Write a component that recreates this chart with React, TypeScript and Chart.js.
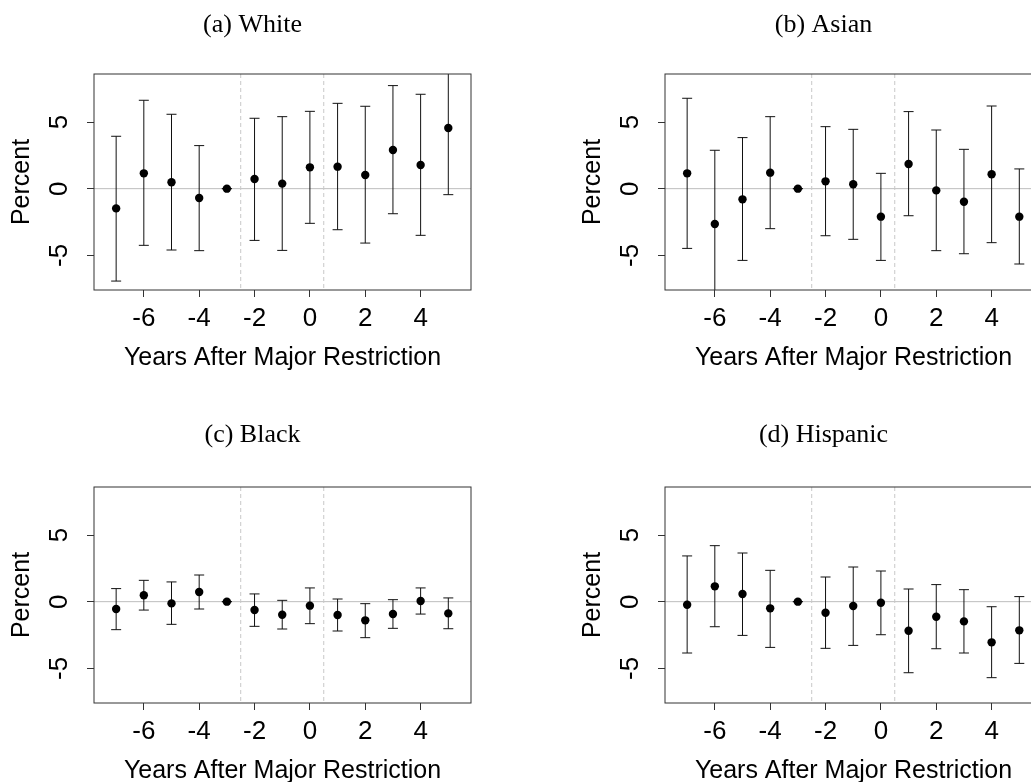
import React, { useEffect, useRef } from "react";
import { Chart, registerables } from "chart.js";

Chart.register(...registerables);

// ---- data ----
const years = [-7, -6, -5, -4, -3, -2, -1, 0, 1, 2, 3, 4, 5];
const xTickValues = [-6, -4, -2, 0, 2, 4];
const yTickValues = [-5, 0, 5];
const periodBreaks = [-2.5, 0.5];

const whiteEst = [-1.48, 1.15, 0.48, -0.7, 0, 0.73, 0.38, 1.6, 1.65, 1.03, 2.9, 1.78, 4.55];
const whiteLow = [-6.93, -4.25, -4.6, -4.65, 0, -3.88, -4.63, -2.6, -3.08, -4.08, -1.88, -3.5, -0.45];
const whiteHigh = [3.93, 6.63, 5.58, 3.23, 0, 5.28, 5.4, 5.8, 6.4, 6.18, 7.73, 7.08, 9.5];

const asianEst = [1.15, -2.65, -0.8, 1.2, 0, 0.55, 0.33, -2.1, 1.85, -0.13, -0.98, 1.08, -2.1];
const asianLow = [-4.48, -8.2, -5.38, -3.0, 0, -3.53, -3.8, -5.38, -2.03, -4.65, -4.88, -4.05, -5.65];
const asianHigh = [6.78, 2.88, 3.83, 5.4, 0, 4.65, 4.45, 1.15, 5.78, 4.4, 2.95, 6.2, 1.48];

const blackEst = [-0.55, 0.48, -0.13, 0.73, 0, -0.63, -0.98, -0.3, -1.0, -1.4, -0.93, 0.05, -0.88];
const blackLow = [-2.1, -0.63, -1.7, -0.55, 0, -1.85, -2.05, -1.65, -2.2, -2.7, -2.0, -0.93, -2.03];
const blackHigh = [0.98, 1.6, 1.48, 2.0, 0, 0.58, 0.1, 1.03, 0.2, -0.15, 0.15, 1.03, 0.28];

const hispEst = [-0.23, 1.15, 0.58, -0.5, 0, -0.83, -0.33, -0.08, -2.18, -1.13, -1.48, -3.05, -2.15];
const hispLow = [-3.85, -1.88, -2.53, -3.43, 0, -3.5, -3.28, -2.48, -5.33, -3.53, -3.85, -5.7, -4.63];
const hispHigh = [3.43, 4.2, 3.65, 2.35, 0, 1.85, 2.6, 2.3, 0.95, 1.28, 0.9, -0.38, 0.38];

const panelTitles = ["(a) White", "(b) Asian", "(c) Black", "(d) Hispanic"];
const xAxisTitle = "Years After Major Restriction";
const yAxisTitle = "Percent";

const SANS = '"Liberation Sans", Arial, sans-serif';
const SERIF = '"Liberation Serif", "Times New Roman", serif';

type PanelProps = {
  est: number[];
  low: number[];
  high: number[];
  title: string;
  left: number;
  top: number;
  titleY: number;
};

function Panel({ est, low, high, title, left, top, titleY }: PanelProps) {
  const ref = useRef<HTMLCanvasElement | null>(null);

  useEffect(() => {
    if (!ref.current) return;
    const decor = {
      id: "decor",
      beforeDatasetsDraw(chart: any) {
        const { ctx, chartArea: a, scales } = chart;
        const x = scales.x;
        const y = scales.y;
        ctx.save();
        ctx.beginPath();
        ctx.rect(a.left, a.top, a.right - a.left, a.bottom - a.top);
        ctx.clip();
        // zero reference line
        ctx.lineWidth = 1;
        ctx.strokeStyle = "#bdbdbd";
        const y0 = y.getPixelForValue(0);
        ctx.beginPath();
        ctx.moveTo(a.left, y0);
        ctx.lineTo(a.right, y0);
        ctx.stroke();
        // period breaks
        ctx.strokeStyle = "#c8c8c8";
        ctx.setLineDash([4, 3]);
        for (const b of periodBreaks) {
          const px = x.getPixelForValue(b);
          ctx.beginPath();
          ctx.moveTo(px, a.top);
          ctx.lineTo(px, a.bottom);
          ctx.stroke();
        }
        ctx.setLineDash([]);
        // error bars
        ctx.strokeStyle = "#111";
        years.forEach((yr, i) => {
          const px = x.getPixelForValue(yr);
          const pl = y.getPixelForValue(low[i]);
          const ph = y.getPixelForValue(high[i]);
          ctx.beginPath();
          ctx.moveTo(px, pl);
          ctx.lineTo(px, ph);
          ctx.moveTo(px - 5, pl);
          ctx.lineTo(px + 5, pl);
          ctx.moveTo(px - 5, ph);
          ctx.lineTo(px + 5, ph);
          ctx.stroke();
        });
        ctx.restore();
      },
      afterDatasetsDraw(chart: any) {
        const { ctx, chartArea: a } = chart;
        ctx.save();
        ctx.strokeStyle = "#333";
        ctx.lineWidth = 1;
        ctx.strokeRect(a.left, a.top, a.right - a.left, a.bottom - a.top);
        ctx.restore();
      },
      afterDraw(chart: any) {
        const { ctx } = chart;
        ctx.save();
        ctx.fillStyle = "#000";
        ctx.font = `26px ${SERIF}`;
        ctx.textAlign = "center";
        ctx.textBaseline = "alphabetic";
        ctx.fillText(title, 252.5, titleY);
        ctx.restore();
      },
    };

    const chart = new Chart(ref.current, {
      type: "scatter",
      data: {
        datasets: [
          {
            data: years.map((yr, i) => ({ x: yr, y: est[i] })),
            pointRadius: 4.2,
            pointHoverRadius: 4.2,
            pointBackgroundColor: "#000",
            pointBorderColor: "#000",
            pointBorderWidth: 0,
          },
        ],
      },
      options: {
        animation: false,
        responsive: false,
        devicePixelRatio: 1,
        events: [],
        layout: { padding: { left: 0, top: 74, right: 33, bottom: 0 } },
        plugins: {
          legend: { display: false },
          tooltip: { enabled: false },
          title: { display: false },
        },
        scales: {
          x: {
            type: "linear",
            min: -7.8,
            max: 5.82,
            afterBuildTicks: (s: any) => {
              s.ticks = xTickValues.map((v) => ({ value: v }));
            },
            afterFit: (s: any) => {
              s.height = 110;
            },
            ticks: {
              color: "#000",
              font: { family: SANS, size: 26 },
              padding: 6,
              maxRotation: 0,
              minRotation: 0,
              autoSkip: false,
              callback: (v: any) => String(v),
            },
            grid: {
              display: true,
              drawOnChartArea: false,
              drawTicks: true,
              tickLength: 7,
              color: "#333",
              lineWidth: 1,
            },
            border: { display: false },
            title: {
              display: true,
              text: xAxisTitle,
              color: "#000",
              font: { family: SANS, size: 25 },
              padding: { top: 0, bottom: 27 },
            },
          },
          y: {
            type: "linear",
            min: -7.6,
            max: 8.6,
            afterBuildTicks: (s: any) => {
              s.ticks = yTickValues.map((v) => ({ value: v }));
            },
            afterFit: (s: any) => {
              s.width = 94;
            },
            ticks: {
              color: "#000",
              font: { family: SANS, size: 26 },
              padding: 15.4,
              minRotation: 90,
              maxRotation: 90,
              crossAlign: "center",
              autoSkip: false,
              callback: (v: any) => String(v),
            },
            grid: {
              display: true,
              drawOnChartArea: false,
              drawTicks: true,
              tickLength: 7,
              color: "#333",
              lineWidth: 1,
            },
            border: { display: false },
            title: {
              display: true,
              text: yAxisTitle,
              color: "#000",
              font: { family: SANS, size: 25 },
              padding: { top: 7, bottom: 0 },
            },
          },
        },
      },
      plugins: [decor],
    } as any);

    return () => chart.destroy();
  }, [est, low, high, title, titleY]);

  return (
    <canvas
      ref={ref}
      width={504}
      height={400}
      style={{ position: "absolute", left, top, width: 504, height: 400 }}
    />
  );
}

export default function App() {
  return (
    <div
      style={{
        position: "fixed",
        left: 0,
        top: 0,
        width: 1031,
        height: 782,
        overflow: "hidden",
        background: "#fff",
      }}
    >
      <Panel est={whiteEst} low={whiteLow} high={whiteHigh} title={panelTitles[0]} left={0} top={0} titleY={32.3} />
      <Panel est={asianEst} low={asianLow} high={asianHigh} title={panelTitles[1]} left={571} top={0} titleY={32.3} />
      <Panel est={blackEst} low={blackLow} high={blackHigh} title={panelTitles[2]} left={0} top={413} titleY={29.3} />
      <Panel est={hispEst} low={hispLow} high={hispHigh} title={panelTitles[3]} left={571} top={413} titleY={29.3} />
    </div>
  );
}
